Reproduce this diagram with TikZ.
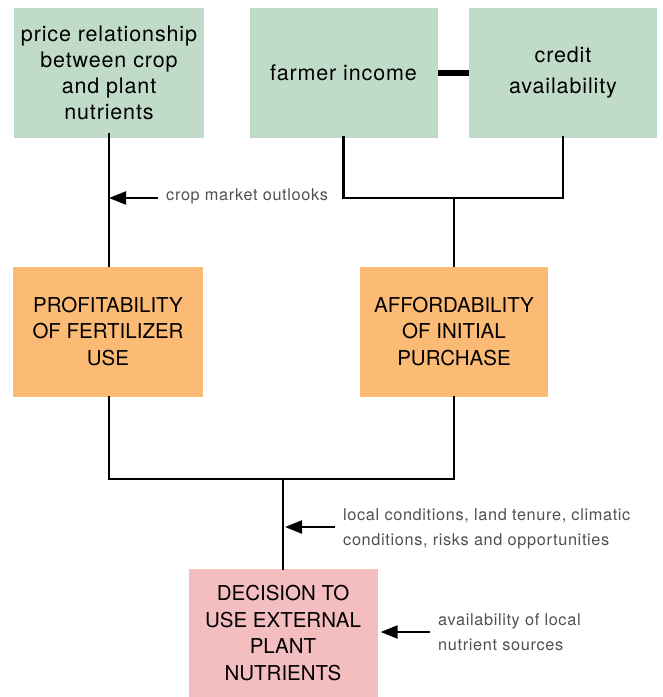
\documentclass[tikz,border=0pt]{standalone}
\usepackage{fontspec}
\setmainfont{TeX Gyre Heros}
\usetikzlibrary{arrows.meta}
\definecolor{boxgreen}{HTML}{C1DBC9}
\definecolor{boxorange}{HTML}{FBBB74}
\definecolor{boxpink}{HTML}{F4BEC0}
\definecolor{notegray}{HTML}{505050}
\begin{document}
\begin{tikzpicture}[x=1pt,y=-1pt,
  box/.style={draw=none, minimum width=190pt, minimum height=130pt, inner sep=0pt, align=center, text=black},
  greenbox/.style={box, fill=boxgreen, font=\fontsize{21.5}{26}\selectfont\addfontfeature{LetterSpace=4}},
  capbox/.style={box, font=\fontsize{20.5}{26.5}\selectfont},
  note/.style={anchor=west, inner sep=0pt, align=left, text=notegray, font=\fontsize{16.3}{25}\selectfont\addfontfeature{LetterSpace=4}},
  conn/.style={line width=2.3pt, line cap=rect},
  arr/.style={line width=2.3pt, -{Triangle[length=17pt,width=13pt]}},
]
\useasboundingbox (0,0) rectangle (663,697);
\node[greenbox] (price) at (109,73) {price relationship\\between crop\\and plant\\nutrients};
\node[greenbox, minimum width=188pt] (farmer) at (343.5,73) {farmer income};
\node[greenbox, minimum width=188pt] (credit) at (563,73) {credit\\[5pt]availability};
\node[capbox, fill=boxorange] (profit) at (108,331.5) {PROFITABILITY\\OF FERTILIZER\\USE};
\node[capbox, fill=boxorange, minimum width=188pt] (afford) at (454,331.5) {AFFORDABILITY\\OF INITIAL\\PURCHASE};
\node[capbox, fill=boxpink, minimum width=189pt, minimum height=128pt] (decision) at (283,633) {DECISION TO\\USE EXTERNAL\\PLANT\\NUTRIENTS};

\draw[line width=6pt] (farmer.east) -- (credit.west);

\coordinate (j1) at (afford.north |- 0,198);
\draw[conn] ([yshift=1pt]farmer.south) |- (j1) -| ([yshift=1pt]credit.south);
\draw[conn] (j1) -- (afford.north);
\draw[conn] ([yshift=4pt]price.south) -- ([xshift=1pt]profit.north);

\coordinate (j2) at (decision.north |- 0,479);
\draw[conn] ([xshift=1pt]profit.south) |- (j2) -| (afford.south);
\draw[conn] (j2) -- (decision.north);

\node[note] (t1) at (166,196) {crop market outlooks};
\coordinate (a1) at (158,198);
\draw[arr] (a1) -- (a1 -| price.south);

\node[note] (t2) at (343,528.5) {local conditions, land tenure, climatic\\conditions, risks and opportunities};
\coordinate (a2) at (335,527);
\draw[arr] (a2) -- ([xshift=2pt]a2 -| decision.north);

\node[note] (t3) at (438,632.5) {availability of local\\nutrient sources};
\coordinate (a3) at (430,632);
\draw[arr] (a3) -- ([xshift=3pt]decision.east |- a3);
\end{tikzpicture}
\end{document}
